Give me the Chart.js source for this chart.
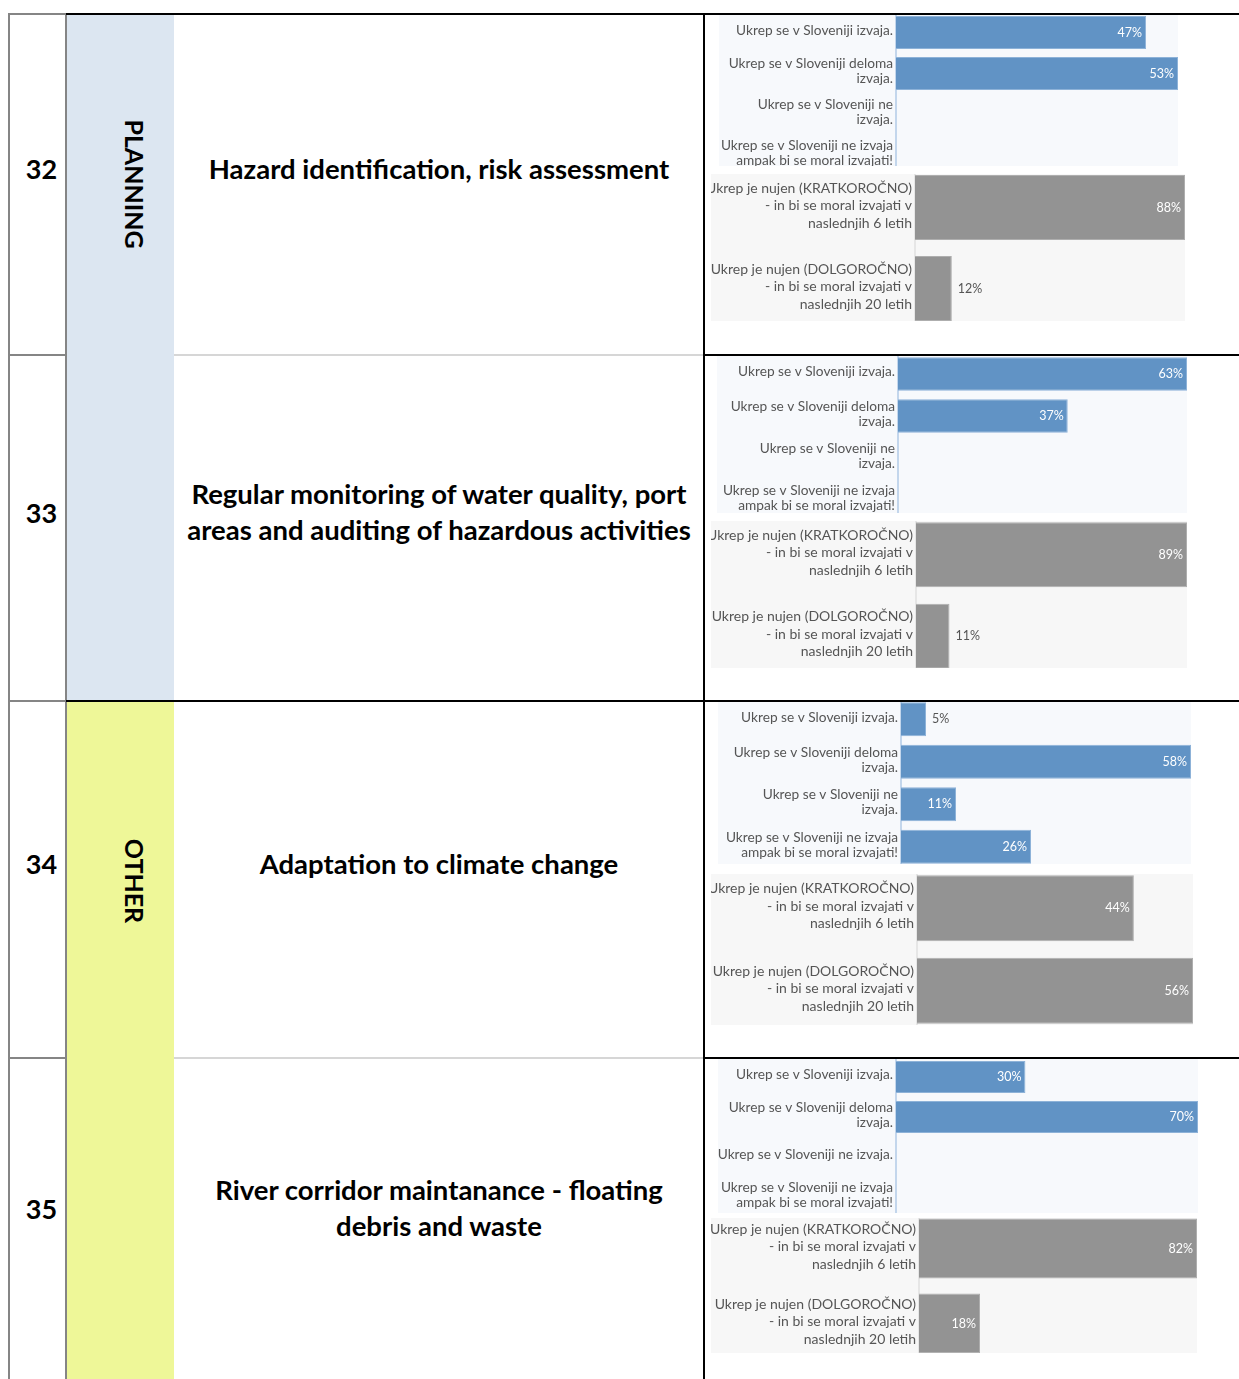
<!DOCTYPE html>
<html>
<head>
<meta charset="utf-8">
<script src="https://cdn.jsdelivr.net/npm/chart.js@4.4.1/dist/chart.umd.min.js"></script>
<style>
  body { margin: 0; width: 1239px; height: 1379px; overflow: hidden; position: relative; background: #fff; font-family: Lato, sans-serif; }
  .abs { position: absolute; }
  .num, .title { position: absolute; display: flex; align-items: center; justify-content: center; padding-bottom: 30px; box-sizing: border-box; font-weight: bold; color: #000; text-align: center; }
  .num { font-size: 27px; }
  .title { font-size: 27.5px; line-height: 36px; white-space: nowrap; }
  .group { position: absolute; writing-mode: vertical-rl; font-weight: bold; font-size: 25px; color: #000; transform: translate(-50%, -50%); }
  .chartwrap { position: absolute; overflow: hidden; }
  .chartwrap canvas { position: absolute; left: 0; }
</style>
</head>
<body>
<script>
// table content
const rowNumbers = ["32", "33", "34", "35"];
const rowTitles = [
  ["Hazard identification, risk assessment"],
  ["Regular monitoring of water quality, port", "areas and auditing of hazardous activities"],
  ["Adaptation to climate change"],
  ["River corridor maintanance - floating", "debris and waste"]
];
const groupNames = ["PLANNING", "OTHER"];

// chart categories
const statusLabels = [
  "Ukrep se v Sloveniji izvaja.",
  ["Ukrep se v Sloveniji deloma", "izvaja."],
  ["Ukrep se v Sloveniji ne", "izvaja."],
  ["Ukrep se v Sloveniji ne izvaja", "ampak bi se moral izvajati!"]
];
const statusLabels35 = [
  "Ukrep se v Sloveniji izvaja.",
  ["Ukrep se v Sloveniji deloma", "izvaja."],
  "Ukrep se v Sloveniji ne izvaja.",
  ["Ukrep se v Sloveniji ne izvaja", "ampak bi se moral izvajati!"]
];
const urgencyLabels = [
  ["Ukrep je nujen (KRATKOROČNO)", "- in bi se moral izvajati v", "naslednjih 6 letih"],
  ["Ukrep je nujen (DOLGOROČNO)", "- in bi se moral izvajati v", "naslednjih 20 letih"]
];

// values (%)
const status32 = [47, 53, 0, 0];
const status33 = [63, 37, 0, 0];
const status34 = [5, 58, 11, 26];
const status35 = [30, 70, 0, 0];
const urgency32 = [88, 12];
const urgency33 = [89, 11];
const urgency34 = [44, 56];
const urgency35 = [82, 18];

// layout of the table
const rowBands = [[14, 355], [355, 701], [701, 1058], [1058, 1390]];
const statusBoxes = [
  { x: 719, y: 15, w: 459, h: 151, axis: 896, pitch: 41, off: -3.5 },
  { x: 717, y: 356, w: 470, h: 157, axis: 898, pitch: 42, off: -3.5 },
  { x: 718, y: 702, w: 473, h: 162, axis: 901, pitch: 42.5, off: -4.3 },
  { x: 718, y: 1059, w: 480, h: 154, axis: 896, pitch: 40, off: -2 }
];
const urgencyBoxes = [
  { x: 711, y: 174, w: 474, h: 147, axis: 915, pitch: 81, off: -7.5 },
  { x: 711, y: 521, w: 476, h: 147, axis: 916, pitch: 81.5, off: -7.5 },
  { x: 711, y: 874, w: 482, h: 151, axis: 917, pitch: 82.5, off: -7 },
  { x: 711, y: 1218, w: 486, h: 135, axis: 919, pitch: 75, off: -7 }
];

function box(x, y, w, h, color) {
  const d = document.createElement("div");
  d.className = "abs";
  Object.assign(d.style, { left: x + "px", top: y + "px", width: w + "px", height: h + "px", background: color });
  document.body.appendChild(d);
  return d;
}

// group fills
box(67, 15, 107, 686, "#dce6f1");
box(67, 702, 107, 690, "#eef798");

// grid lines
const GRAY = "#858585", LIGHT = "#d6d6d6", BLACK = "#000";
box(8, 13, 2, 1380, GRAY);
box(65, 13, 2, 1380, GRAY);
box(703, 13, 2, 1380, BLACK);
box(8, 13, 58, 2, GRAY);
box(66, 13, 1173, 2, BLACK);
box(8, 354, 58, 2, GRAY);
box(174, 354, 529, 2, LIGHT);
box(704, 354, 535, 2, BLACK);
box(8, 700, 58, 2, GRAY);
box(66, 700, 1173, 2, BLACK);
box(8, 1057, 58, 2, GRAY);
box(174, 1057, 529, 2, LIGHT);
box(704, 1057, 535, 2, BLACK);

// texts
rowBands.forEach(([t, b], i) => {
  const n = document.createElement("div");
  n.className = "num";
  Object.assign(n.style, { left: "14px", top: (t - 1) + "px", width: "55px", height: (b - t) + "px" });
  n.textContent = rowNumbers[i];
  document.body.appendChild(n);

  const ti = document.createElement("div");
  ti.className = "title";
  Object.assign(ti.style, { left: "174px", top: (t - 1) + "px", width: "530px", height: (b - t) + "px" });
  ti.innerHTML = rowTitles[i].join("<br>");
  document.body.appendChild(ti);
});
[[184, groupNames[0]], [881, groupNames[1]]].forEach(([cy, name]) => {
  const g = document.createElement("div");
  g.className = "group";
  Object.assign(g.style, { left: "135px", top: cy + "px" });
  g.textContent = name;
  document.body.appendChild(g);
});

const valueLabels = {
  id: "valueLabels",
  afterDatasetsDraw(chart) {
    const ctx = chart.ctx;
    const values = chart.data.datasets[0].data;
    ctx.save();
    ctx.font = "12.5px Lato";
    ctx.textBaseline = "middle";
    chart.getDatasetMeta(0).data.forEach((bar, i) => {
      const v = values[i];
      if (!v) return;
      const text = v + "%";
      const tw = ctx.measureText(text).width;
      if (bar.x - bar.base > tw + 16) {
        ctx.fillStyle = "#fff";
        ctx.textAlign = "right";
        ctx.fillText(text, bar.x - 4, bar.y);
      } else {
        ctx.fillStyle = "#555";
        ctx.textAlign = "left";
        ctx.fillText(text, bar.x + 6, bar.y);
      }
    });
    ctx.restore();
  }
};

function drawChart(b, labels, values, color, edge, bg, axisColor, fontSize, lineHeight) {
  const wrap = document.createElement("div");
  wrap.className = "chartwrap";
  Object.assign(wrap.style, { left: b.x + "px", top: b.y + "px", width: b.w + "px", height: b.h + "px", background: bg });
  const canvas = document.createElement("canvas");
  canvas.width = b.w;
  canvas.height = Math.round(labels.length * b.pitch);
  canvas.style.top = b.off + "px";
  wrap.appendChild(canvas);
  document.body.appendChild(wrap);

  new Chart(canvas, {
    type: "bar",
    data: {
      labels: labels,
      datasets: [
        {
          data: values,
          backgroundColor: color,
          borderColor: edge,
          borderWidth: (c) => (c.raw ? 1 : 0),
          barPercentage: 0.8,
          categoryPercentage: 1,
        },
      ],
    },
    options: {
      indexAxis: "y",
      responsive: false,
      animation: false,
      events: [],
      layout: { padding: 0 },
      plugins: {
        legend: { display: false },
        tooltip: { enabled: false },
      },
      scales: {
        x: { display: false, min: 0, max: Math.max(...values) },
        y: {
          afterFit: (s) => {
            s.width = b.axis - b.x;
            s.paddingTop = 0;
            s.paddingBottom = 0;
          },
          grid: { display: false, drawTicks: false },
          border: { color: axisColor, width: 2 },
          ticks: {
            color: "#555",
            padding: 3,
            labelOffset: -2,
            font: { family: "Lato", size: fontSize, lineHeight: lineHeight },
          },
        },
      },
    },
    plugins: [valueLabels],
  });
}

const statusSets = [[statusLabels, status32], [statusLabels, status33], [statusLabels, status34], [statusLabels35, status35]];
const urgencySets = [urgency32, urgency33, urgency34, urgency35];

statusSets.forEach(([labels, values], i) => {
  drawChart(statusBoxes[i], labels, values, "#6193c5", "#8db2d8", "#f7f9fc", "#c3d6ec", 13.7, 1.1);
});
urgencySets.forEach((values, i) => {
  drawChart(urgencyBoxes[i], urgencyLabels, values, "#939393", "#aeaeae", "#f7f7f7", "#e6e6e6", 14, 1.25);
});
</script>
</body>
</html>
